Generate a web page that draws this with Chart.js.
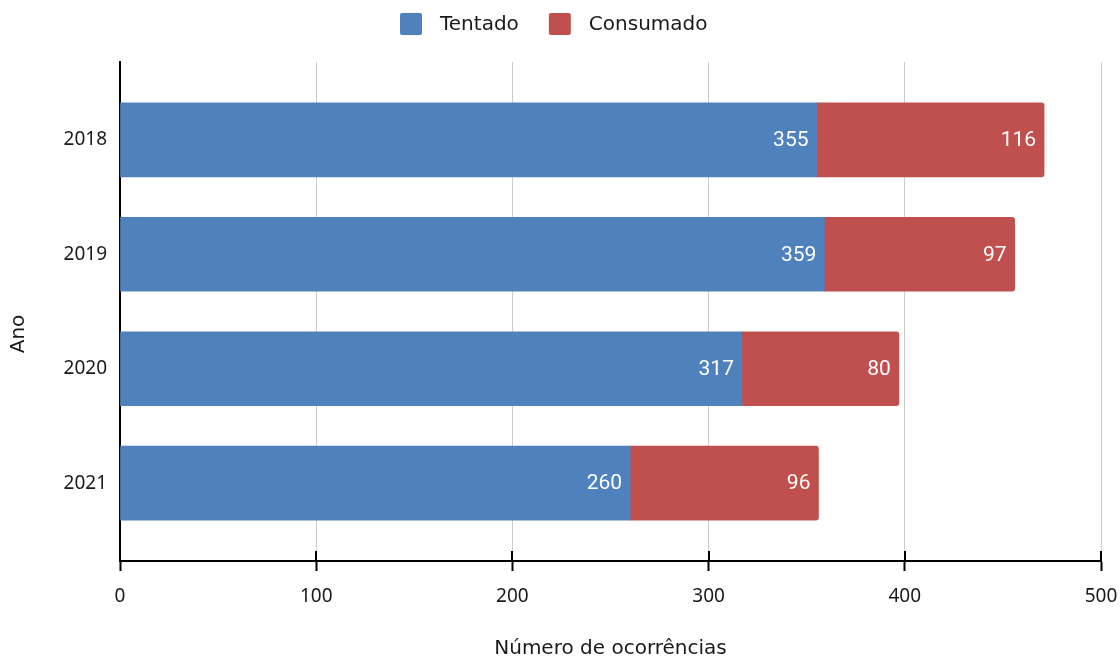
<!DOCTYPE html>
<html>
<head>
<meta charset="utf-8">
<script src="https://cdn.jsdelivr.net/npm/chart.js"></script>
<style>
  html, body { margin: 0; padding: 0; background: #fff; }
  #wrap { width: 1120px; height: 661px; }
</style>
</head>
<body>
<div id="wrap"><canvas id="myChart" width="1120" height="661"></canvas></div>
<script>
const years = ['2018', '2019', '2020', '2021'];
const tentado = [355, 359, 317, 260];
const consumado = [116, 97, 80, 96];
const xTicks = [0, 100, 200, 300, 400, 500];

const BLUE = '#4f81bd';
const RED = '#c0504d';
const TEXT = '#1a1a1a';
const TITLE_FONT = '20px "DejaVu Sans"';

// white value labels at the end of each bar segment
const valueLabels = {
    id: 'valueLabels',
    afterDatasetsDraw(chart) {
        const ctx = chart.ctx;
        ctx.save();
        ctx.fillStyle = '#ffffff';
        ctx.font = '21px Roboto';
        ctx.textAlign = 'right';
        ctx.textBaseline = 'middle';
        chart.data.datasets.forEach((ds, i) => {
            chart.getDatasetMeta(i).data.forEach((bar, j) => {
                ctx.fillText(String(ds.data[j].x), bar.x - 8, bar.y + 1);
            });
        });
        ctx.restore();
    }
};

// legend on top, built from the datasets
const topLegend = {
    id: 'topLegend',
    afterDraw(chart) {
        const ctx = chart.ctx;
        ctx.save();
        ctx.font = TITLE_FONT;
        ctx.textBaseline = 'middle';
        const items = chart.data.datasets.map(ds => ({
            label: ds.label, color: ds.backgroundColor, w: ctx.measureText(ds.label).width
        }));
        const total = items.reduce((s, it) => s + 22 + 18 + it.w, 0) + 30 * (items.length - 1);
        let x = Math.round(554 - total / 2);
        items.forEach(it => {
            ctx.fillStyle = it.color;
            ctx.beginPath();
            ctx.roundRect(x, 13, 22, 22, 2);
            ctx.fill();
            ctx.fillStyle = TEXT;
            ctx.fillText(it.label, x + 40, 25);
            x += 22 + 18 + it.w + 30;
        });
        ctx.restore();
    }
};

// tick marks that cross the x axis line, plus the rotated "Ano" title
const axisExtras = {
    id: 'axisExtras',
    afterDraw(chart) {
        const ctx = chart.ctx;
        const xs = chart.scales.x;
        const bottom = chart.chartArea.bottom;
        ctx.save();
        ctx.strokeStyle = '#000';
        ctx.lineWidth = 2;
        xTicks.forEach(v => {
            const px = Math.round(xs.getPixelForValue(v));
            ctx.beginPath();
            ctx.moveTo(px, bottom - 10);
            ctx.lineTo(px, bottom);
            ctx.stroke();
        });
        ctx.translate(19, 334);
        ctx.rotate(-Math.PI / 2);
        ctx.fillStyle = TEXT;
        ctx.font = TITLE_FONT;
        ctx.textAlign = 'center';
        ctx.textBaseline = 'middle';
        ctx.fillText('Ano', 0, 0);
        ctx.restore();
    }
};

const ctx = document.getElementById('myChart').getContext('2d');
new Chart(ctx, {
    type: 'bar',
    data: {
        datasets: [
            {
                label: 'Tentado',
                data: tentado.map((v, i) => ({ x: v, y: i })),
                backgroundColor: BLUE,
                barThickness: 74
            },
            {
                label: 'Consumado',
                data: consumado.map((v, i) => ({ x: v, y: i })),
                backgroundColor: RED,
                barThickness: 74,
                borderRadius: 3
            }
        ]
    },
    options: {
        indexAxis: 'y',
        responsive: false,
        animation: false,
        layout: { padding: { top: 62, right: 0, left: 0, bottom: 0 } },
        plugins: {
            tooltip: { enabled: false },
            legend: { display: false }
        },
        scales: {
            x: {
                type: 'linear',
                stacked: true,
                min: 0,
                max: 500,
                afterBuildTicks: s => { s.ticks = xTicks.map(v => ({ value: v })); },
                afterFit: s => { s.height = 100; s.paddingRight = 19; s.paddingLeft = 0; },
                grid: {
                    color: '#cccccc',
                    lineWidth: 1,
                    tickColor: '#000',
                    tickWidth: 2,
                    tickLength: 10
                },
                border: { display: true, color: '#000', width: 2 },
                ticks: {
                    color: TEXT,
                    padding: 14,
                    font: { family: '"Noto Sans"', size: 19 }
                },
                title: {
                    display: true,
                    text: 'Número de ocorrências',
                    color: TEXT,
                    padding: { top: 0, bottom: 0 },
                    font: { family: '"DejaVu Sans"', size: 20 }
                }
            },
            y: {
                type: 'linear',
                stacked: true,
                reverse: true,
                offset: false,
                min: -0.68,
                max: 3.68,
                afterBuildTicks: s => { s.ticks = years.map((_, i) => ({ value: i })); },
                afterFit: s => { s.width = 120; },
                grid: { drawOnChartArea: false, drawTicks: false },
                border: { display: true, color: '#000', width: 2 },
                ticks: {
                    color: TEXT,
                    padding: 13,
                    font: { family: '"Noto Sans"', size: 19 },
                    callback: v => years[v]
                }
            }
        }
    },
    plugins: [valueLabels, topLegend, axisExtras]
});
</script>
</body>
</html>
